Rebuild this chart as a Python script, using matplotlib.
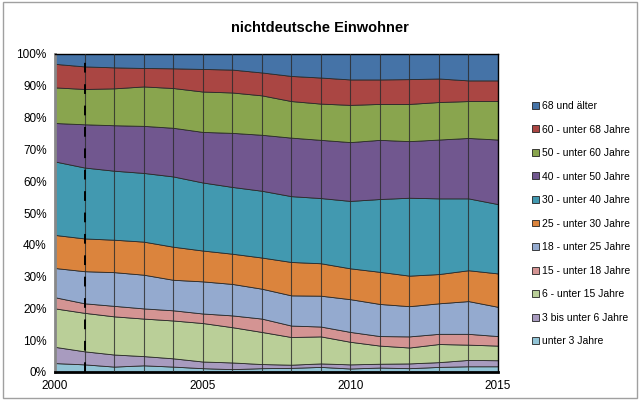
import matplotlib
matplotlib.use("Agg")
import matplotlib.pyplot as plt
from matplotlib.patches import Rectangle, Patch
import numpy as np

plt.rcParams['font.family'] = ['Liberation Sans', 'DejaVu Sans']

years = list(range(2000, 2016))
labels = ["unter 3 Jahre", "3 bis unter 6 Jahre", "6 - unter 15 Jahre", "15 - unter 18 Jahre",
          "18 - unter 25 Jahre", "25 - unter 30 Jahre", "30 - unter 40 Jahre", "40 - unter 50 Jahre",
          "50 - unter 60 Jahre", "60 - unter 68 Jahre", "68 und älter"]
colors = ["#92C4D6", "#A89BBF", "#BACF98", "#D49493", "#94AACF", "#DB843D",
          "#4299B0", "#71578F", "#89A54E", "#AA4643", "#4573A7"]

u3    = [2.8, 2.4, 1.7, 2.1, 1.7, 1.2, 0.9, 1.2, 1.3, 1.6, 1.1, 1.4, 1.2, 1.6, 1.8, 1.8]
b3_6  = [5.1, 4.1, 3.8, 2.9, 2.6, 2.1, 2.1, 1.3, 1.0, 1.1, 1.3, 1.2, 1.5, 1.5, 2.0, 1.9]
b6_15 = [12.1, 12.1, 12.0, 11.8, 11.9, 12.1, 11.1, 10.1, 8.7, 8.5, 7.1, 5.7, 5.0, 5.7, 4.8, 4.6]
b15_18 = [3.5, 3.0, 3.3, 3.2, 3.2, 3.0, 3.7, 4.2, 3.6, 3.1, 3.1, 3.0, 3.5, 3.2, 3.4, 3.0]
b18_25 = [9.2, 10.1, 10.6, 10.6, 9.6, 10.1, 9.9, 9.4, 9.5, 9.7, 10.3, 10.1, 9.5, 9.6, 10.3, 9.2]
b25_30 = [10.4, 10.3, 10.2, 10.4, 10.4, 9.7, 9.5, 9.8, 10.5, 10.2, 9.7, 10.1, 9.6, 9.2, 9.7, 10.5]
b30_40 = [23.1, 22.3, 21.7, 21.6, 22.1, 21.4, 21.0, 21.0, 20.7, 20.5, 21.2, 22.9, 24.5, 23.8, 22.6, 21.8]
b40_50 = [12.1, 13.6, 14.3, 14.8, 15.3, 15.9, 17.0, 17.6, 18.4, 18.3, 18.5, 18.6, 17.8, 18.5, 19.0, 20.3]
b50_60 = [11.2, 11.1, 11.6, 12.4, 12.5, 12.7, 12.7, 12.4, 11.5, 11.4, 11.7, 11.3, 11.7, 11.8, 11.6, 12.1]
b60_68 = [7.4, 7.1, 6.6, 5.8, 6.2, 7.1, 7.2, 7.2, 7.9, 8.2, 8.0, 7.7, 7.8, 7.4, 6.5, 6.5]
ab68  = [3.1, 3.9, 4.2, 4.4, 4.5, 4.7, 4.9, 5.8, 6.9, 7.4, 8.0, 8.0, 7.9, 7.7, 8.3, 8.3]

series = [u3, b3_6, b6_15, b15_18, b18_25, b25_30, b30_40, b40_50, b50_60, b60_68, ab68]
data = np.array(series, dtype=float)
data = data / data.sum(axis=0) * 100.0

fig = plt.figure(figsize=(6.4, 4.0), dpi=100)
fig.patches.append(Rectangle((0.004, 0.004), 0.992, 0.992, transform=fig.transFigure,
                             fill=False, edgecolor="#A0A0A0", linewidth=1.0))
ax = fig.add_axes([0.086, 0.07, 0.692, 0.795])

ax.stackplot(years, data, colors=colors, edgecolor="#2a2a2a", linewidth=0.6)

for yr in years[1:-1]:
    ax.axvline(yr, color="#2a2a2a", linewidth=0.8, alpha=0.8, zorder=3)
ax.axvline(2001, color="black", linewidth=1.4, linestyle=(0, (5, 6)), zorder=4)

ax.set_xlim(2000, 2015)
ax.set_ylim(0, 100)
ax.set_xticks([2000, 2005, 2010, 2015])
ax.set_xticklabels(["2000", "2005", "2010", "2015"], fontsize=8.5)
ax.set_yticks(range(0, 101, 10))
ax.set_yticklabels([f"{v}%" for v in range(0, 101, 10)], fontsize=8.5)
ax.tick_params(length=0, pad=6)

for s in ["top", "right"]:
    ax.spines[s].set_color("black")
    ax.spines[s].set_linewidth(1.0)
ax.spines["left"].set_color("#888888")
ax.spines["left"].set_linewidth(2.0)
ax.spines["bottom"].set_color("black")
ax.spines["bottom"].set_linewidth(2.0)

fig.text(0.5, 0.93, "nichtdeutsche Einwohner", ha="center", va="center",
         fontsize=10.5, fontweight="bold")

handles = [Patch(facecolor=c, edgecolor="#222222", linewidth=0.6) for c in colors]
leg = fig.legend(handles[::-1], labels[::-1], loc="upper left", bbox_to_anchor=(0.825, 0.758),
                 frameon=False, fontsize=7.5, handlelength=0.65, handleheight=0.65,
                 handletextpad=0.25, labelspacing=1.3, borderaxespad=0)

fig.savefig("out.png", dpi=100)
